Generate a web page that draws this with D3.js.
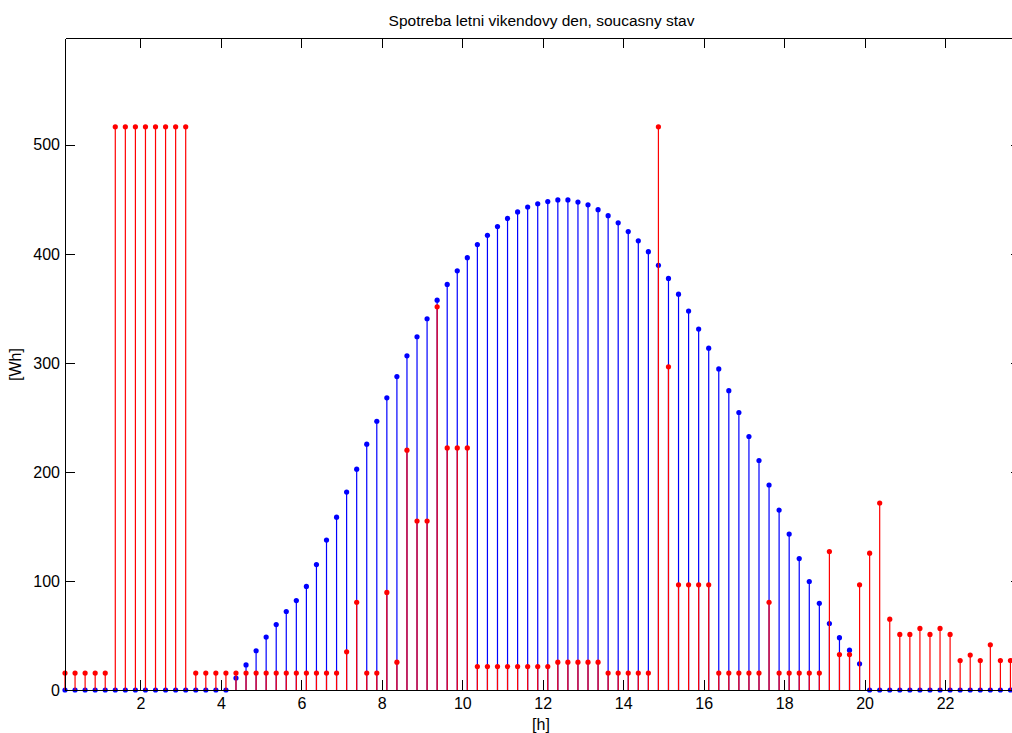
<!DOCTYPE html>
<html>
<head>
<meta charset="utf-8">
<script src="https://cdn.jsdelivr.net/npm/d3@7"></script>
<style>
  html, body { margin: 0; padding: 0; background: #fff; }
  svg { display: block; font-family: "Liberation Sans", Arial, Helvetica, sans-serif; }
</style>
</head>
<body>
<svg id="chart" width="1012" height="733"></svg>
<script>
// Quarter-hour slots of the day (hours, slot midpoints)
const hours = [
  0.125, 0.375, 0.625, 0.875, 1.125, 1.375, 1.625, 1.875,
  2.125, 2.375, 2.625, 2.875, 3.125, 3.375, 3.625, 3.875,
  4.125, 4.375, 4.625, 4.875, 5.125, 5.375, 5.625, 5.875,
  6.125, 6.375, 6.625, 6.875, 7.125, 7.375, 7.625, 7.875,
  8.125, 8.375, 8.625, 8.875, 9.125, 9.375, 9.625, 9.875,
  10.125, 10.375, 10.625, 10.875, 11.125, 11.375, 11.625, 11.875,
  12.125, 12.375, 12.625, 12.875, 13.125, 13.375, 13.625, 13.875,
  14.125, 14.375, 14.625, 14.875, 15.125, 15.375, 15.625, 15.875,
  16.125, 16.375, 16.625, 16.875, 17.125, 17.375, 17.625, 17.875,
  18.125, 18.375, 18.625, 18.875, 19.125, 19.375, 19.625, 19.875,
  20.125, 20.375, 20.625, 20.875, 21.125, 21.375, 21.625, 21.875,
  22.125, 22.375, 22.625, 22.875, 23.125, 23.375, 23.625, 23.875
];

// Energy produced per slot [Wh]
const production = [
  0, 0, 0, 0, 0, 0, 0, 0,
  0, 0, 0, 0, 0, 0, 0, 0,
  0, 11, 23, 36, 48.5, 60, 72, 82,
  95, 115, 137.5, 158.5, 181.5, 202.5, 225.5, 246.5,
  268, 287.5, 306.5, 324, 340.5, 357.5, 372, 384.5,
  396.5, 408.5, 417, 425, 432.5, 438.5, 443, 446,
  448, 449.5, 449.5, 447.5, 445, 440.5, 435, 428.5,
  420.5, 412, 402, 389.5, 377.5, 363, 347.5, 331,
  313.5, 294.5, 274.5, 254.5, 232.5, 210.5, 188, 165,
  143, 120.5, 99.5, 79.5, 61, 48, 36.5, 24,
  0, 0, 0, 0, 0, 0, 0, 0,
  0, 0, 0, 0, 0, 0, 0, 0
];

// Energy consumed per slot [Wh]
const consumption = [
  15.5, 15.5, 15.5, 15.5, 15.5, 516.5, 516.5, 516.5,
  516.5, 516.5, 516.5, 516.5, 516.5, 15.5, 15.5, 15.5,
  15.5, 15.5, 15.5, 15.5, 15.5, 15.5, 15.5, 15.5,
  15.5, 15.5, 15.5, 15.5, 35, 80.5, 15.5, 15.5,
  89.5, 25.5, 220, 155, 155, 351.5, 222, 222,
  222, 21.5, 21.5, 21.5, 21.5, 21.5, 21.5, 21.5,
  21.5, 25.5, 25.5, 25.5, 25.5, 25.5, 15.5, 15.5,
  15.5, 15.5, 15.5, 516.5, 296.5, 96.5, 96.5, 96.5,
  96.5, 15.5, 15.5, 15.5, 15.5, 15.5, 80.5, 15.5,
  15.5, 15.5, 15.5, 15.5, 127, 32.5, 32.5, 96.5,
  125.5, 171.5, 65, 51, 51, 56.5, 51, 56.5,
  51, 27, 32, 27, 41.5, 27, 27, 27
];

const xTicks = [2, 4, 6, 8, 10, 12, 14, 16, 18, 20, 22];
const yTicks = [0, 100, 200, 300, 400, 500];
const yMax = 598;

const titleText = "Spotreba letni vikendovy den, soucasny stav";
const xLabelText = "[h]";
const yLabelText = "[Wh]";

// Layout
const plot = { left: 65, right: 1020.5, top: 38, bottom: 690 };
const svg = d3.select("#chart");

const x = d3.scaleLinear()
  .domain([hours[0], hours[hours.length - 1]])
  .range([plot.left, plot.right]);

const y = d3.scaleLinear()
  .domain([0, yMax])
  .range([plot.bottom, plot.top]);

const rows = hours.map((h, i) => ({ h, prod: production[i], cons: consumption[i] }));

// Stem series: stems from the zero line to each value, with a dot at the tip
function drawStems(key, color) {
  const g = svg.append("g").attr("class", "stems-" + key);
  g.selectAll("line")
    .data(rows)
    .join("line")
    .attr("x1", d => x(d.h))
    .attr("x2", d => x(d.h))
    .attr("y1", y(0))
    .attr("y2", d => y(d[key]))
    .attr("stroke", color)
    .attr("stroke-width", 1.2);
  g.selectAll("circle")
    .data(rows)
    .join("circle")
    .attr("cx", d => x(d.h))
    .attr("cy", d => y(d[key]))
    .attr("r", 2.6)
    .attr("fill", color);
}

drawStems("prod", "#0000ff");
drawStems("cons", "#ff0000");

// Axes box with inward ticks on all four sides
const fontSize = "16px";

const axB = svg.append("g")
  .attr("transform", `translate(0,${plot.bottom})`)
  .call(d3.axisBottom(x).tickValues(xTicks).tickSizeInner(-10).tickSizeOuter(0).tickPadding(8).tickFormat(d3.format("d")));

const axT = svg.append("g")
  .attr("transform", `translate(0,${plot.top})`)
  .call(d3.axisTop(x).tickValues(xTicks).tickSizeInner(-10).tickSizeOuter(0).tickFormat(""));

const axL = svg.append("g")
  .attr("transform", `translate(${plot.left},0)`)
  .call(d3.axisLeft(y).tickValues(yTicks).tickSizeInner(-10).tickSizeOuter(0).tickPadding(5).tickFormat(d3.format("d")));

const axR = svg.append("g")
  .attr("transform", `translate(${plot.right},0)`)
  .call(d3.axisRight(y).tickValues(yTicks).tickSizeInner(-10).tickSizeOuter(0).tickFormat(""));

// left/right sides of the box span the full y range
[axB, axT, axL, axR].forEach(g => {
  g.selectAll("path.domain").attr("stroke", "#000").attr("stroke-width", 1).attr("shape-rendering", "crispEdges");
  g.selectAll(".tick line").attr("stroke", "#000").attr("shape-rendering", "crispEdges");
  g.selectAll("text").attr("fill", "#000").style("font-size", fontSize).style("font-family", "'Liberation Sans', Arial, sans-serif");
});

// Title and axis labels
svg.append("text")
  .attr("x", 541.5)
  .attr("y", 25.5)
  .attr("text-anchor", "middle")
  .style("font-size", "15.5px")
  .attr("fill", "#000")
  .text(titleText);

svg.append("text")
  .attr("x", 541)
  .attr("y", 730)
  .attr("text-anchor", "middle")
  .style("font-size", fontSize)
  .attr("fill", "#000")
  .text(xLabelText);

svg.append("text")
  .attr("transform", "translate(21,364.5) rotate(-90)")
  .attr("text-anchor", "middle")
  .style("font-size", fontSize)
  .attr("fill", "#000")
  .text(yLabelText);
</script>
</body>
</html>
